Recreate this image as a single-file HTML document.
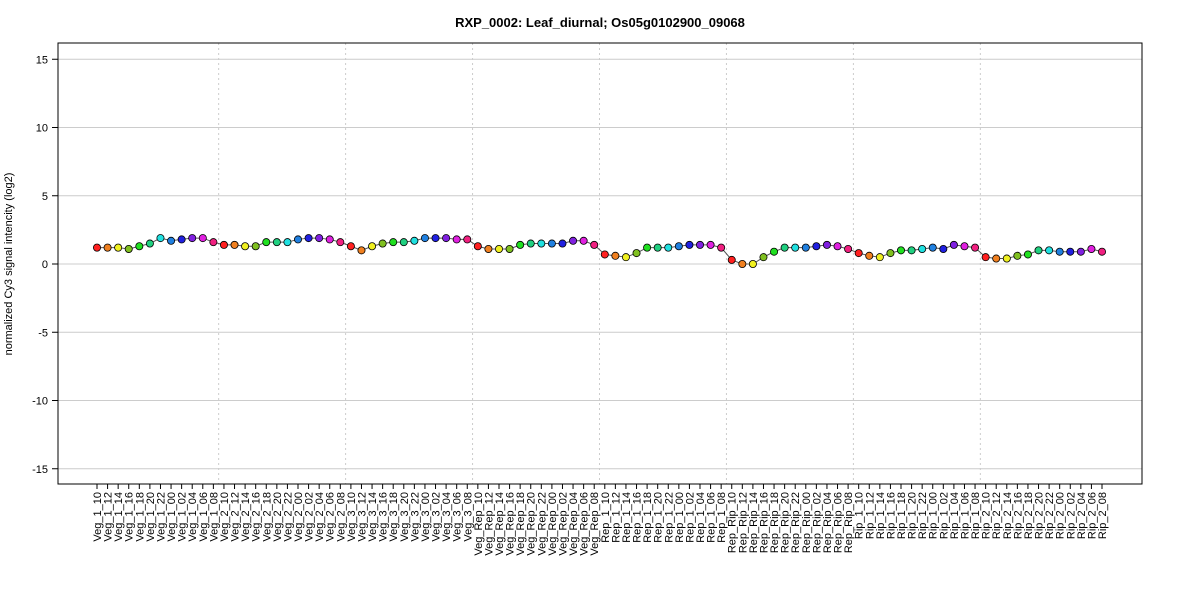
<!DOCTYPE html>
<html><head><meta charset="utf-8"><style>
body{margin:0;background:#fff;font-family:"Liberation Sans",Arial,sans-serif}
</style></head><body>
<svg id="chart" width="1200" height="600" xmlns="http://www.w3.org/2000/svg" font-family="Liberation Sans, Arial, sans-serif">
<text x="600" y="27" text-anchor="middle" font-size="13" font-weight="bold">RXP_0002: Leaf_diurnal; Os05g0102900_09068</text>
<text transform="translate(12,264) rotate(-90)" text-anchor="middle" font-size="11">normalized Cy3 signal intencity (log2)</text>
<g id="grid"></g><g id="marks"></g><g id="axes"></g>
<rect x="58" y="43" width="1084" height="441" fill="none" stroke="#000"/>
</svg>
<script>
const groups=["Veg_1","Veg_2","Veg_3","Veg_Rep","Rep_1","Rep_Rip","Rip_1","Rip_2"];
const hours=["10","12","14","16","18","20","22","00","02","04","06","08"];
const values=[
1.2,1.2,1.2,1.1,1.3,1.5,1.9,1.7,1.8,1.9,1.9,1.6,
1.4,1.4,1.3,1.3,1.6,1.6,1.6,1.8,1.9,1.9,1.8,1.6,
1.3,1.0,1.3,1.5,1.6,1.6,1.7,1.9,1.9,1.9,1.8,1.8,
1.3,1.1,1.1,1.1,1.4,1.5,1.5,1.5,1.5,1.7,1.7,1.4,
0.7,0.6,0.5,0.8,1.2,1.2,1.2,1.3,1.4,1.4,1.4,1.2,
0.3,0.0,0.0,0.5,0.9,1.2,1.2,1.2,1.3,1.4,1.3,1.1,
0.8,0.6,0.5,0.8,1.0,1.0,1.1,1.2,1.1,1.4,1.3,1.2,
0.5,0.4,0.4,0.6,0.7,1.0,1.0,0.9,0.9,0.9,1.1,0.9];
const yTicks=[-15,-10,-5,0,5,10,15];
const colors=["#ff2020","#f08020","#f0f020","#80c020","#20e020","#20d080","#20e0e0","#2080e0","#2020e0","#8020e0","#e020e0","#f02080"];
const categories=[];groups.forEach(g=>hours.forEach(h=>categories.push(g+"_"+h)));
const NS="http://www.w3.org/2000/svg";
const xs=i=>97+i*(1005/(categories.length-1));
const ys=v=>264-v*13.65;
function mk(p,t,a){const e=document.createElementNS(NS,t);for(const k in a)e.setAttribute(k,a[k]);document.getElementById(p).appendChild(e);return e;}
yTicks.forEach(t=>{
 let l=mk("grid","line",{x1:58,x2:1142,y1:ys(t),y2:ys(t),stroke:"#ccc"});
 
 
 let k=mk("axes","line",{x1:52,x2:58,y1:ys(t),y2:ys(t),stroke:"#000"});
 
 
 let tx=mk("axes","text",{x:48,y:ys(t)+4,"text-anchor":"end","font-size":"11"});tx.textContent=t;
 
 
});
for(let g=1;g<groups.length;g++){
 const x=(xs(g*12-1)+xs(g*12))/2;
 let l=mk("grid","line",{x1:x,x2:x,y1:43,y2:484,stroke:"#ccc","stroke-dasharray":"2,3"});
 
 
}
let pts=values.map((v,i)=>xs(i)+","+ys(v)).join(" ");
let pl=mk("marks","polyline",{points:pts,fill:"none",stroke:"#555","stroke-width":1});


values.forEach((v,i)=>{
 let c=mk("marks","circle",{cx:xs(i),cy:ys(v),r:3.6,fill:colors[i%12],stroke:"#000","stroke-width":0.8});
 
 
 let k=mk("axes","line",{x1:xs(i),x2:xs(i),y1:484,y2:489,stroke:"#000"});
 
 
 let t=mk("axes","text",{transform:`translate(${xs(i)+4},492) rotate(-90)`,"text-anchor":"end","font-size":"11"});
 t.textContent=categories[i];
 
 
});
</script>
</body></html>
